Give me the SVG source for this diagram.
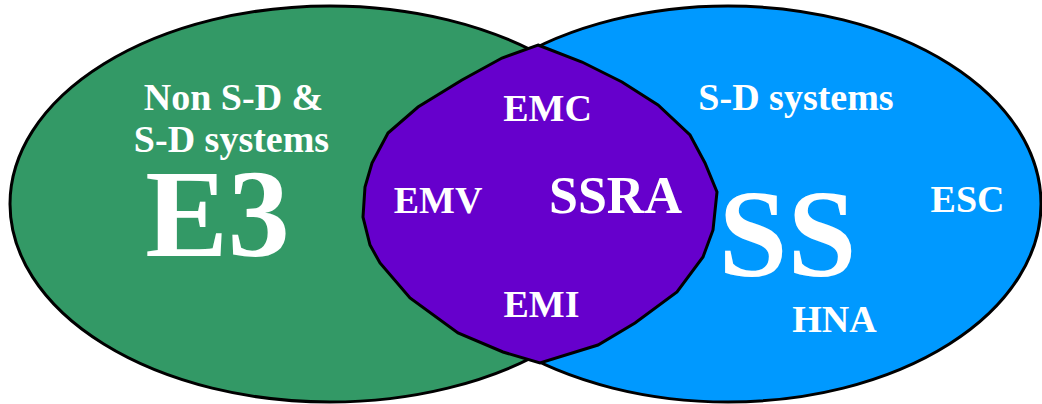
<svg xmlns="http://www.w3.org/2000/svg" width="1042" height="404" viewBox="0 0 1042 404">
  <style>
    .set { stroke: #000; stroke-width: 3; }
    .lbl { font-family: "Liberation Serif", "Times New Roman", serif; font-weight: bold; fill: #fff; text-anchor: middle; }
    .sm { font-size: 38px; }
    .md { font-size: 52px; }
    .lg { font-size: 124px; }
  </style>
  <rect width="1042" height="404" fill="#fff"/>

  <!-- E3: non S-D and S-D systems -->
  <g id="e3">
    <ellipse class="set" cx="330" cy="204" rx="320" ry="198" fill="#339966"/>
  </g>

  <!-- SS: S-D systems -->
  <g id="ss">
    <ellipse class="set" cx="728" cy="204" rx="313" ry="198" fill="#0099FF"/>
  </g>

  <!-- SSRA: overlap region -->
  <g id="ssra">
    <polygon class="set" fill="#6600CC" points="538,45 582,62 622,82 658,105 690,135 705,163 717,192 713,230 703,257 677,292 635,323 598,345 540,363 503,352 458,333 410,298 380,263 370,245 363,217 365,187 372,163 388,133 418,107 462,80 502,58"/>
  </g>

  <g id="e3-labels">
    <text class="lbl sm" x="233.5" y="110">Non S-D &amp;</text>
    <text class="lbl sm" x="231.5" y="152">S-D systems</text>
    <text class="lbl lg" x="217.5" y="256">E3</text>
  </g>

  <g id="ssra-labels">
    <text class="lbl sm" x="547.5" y="121">EMC</text>
    <text class="lbl sm" x="438" y="213">EMV</text>
    <text class="lbl md" x="615.5" y="213">SSRA</text>
    <text class="lbl sm" x="541.5" y="317">EMI</text>
  </g>

  <g id="ss-labels">
    <text class="lbl sm" x="796" y="110">S-D systems</text>
    <text class="lbl lg" x="787.5" y="276">SS</text>
    <text class="lbl sm" x="967.5" y="212">ESC</text>
    <text class="lbl sm" x="834.5" y="332">HNA</text>
  </g>
</svg>
